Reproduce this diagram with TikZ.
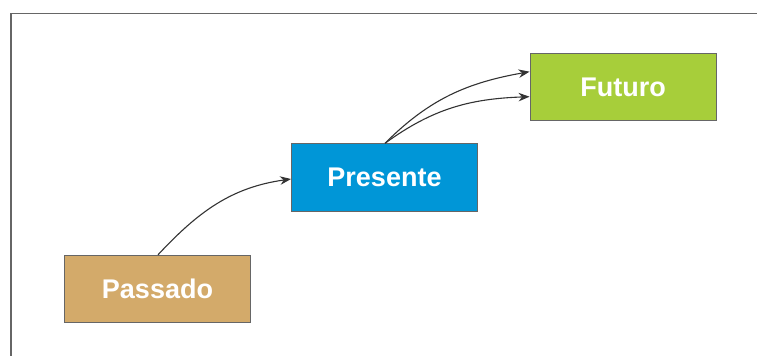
\documentclass[tikz,border=0pt]{standalone}
\usepackage{fontspec}
\setmainfont{Liberation Sans}
\usetikzlibrary{arrows.meta}
\definecolor{cpass}{HTML}{D3AA6A}
\definecolor{cpres}{HTML}{0096D7}
\definecolor{cfut}{HTML}{A7CE3A}
\begin{document}
\begin{tikzpicture}[x=1pt,y=-1pt,
  box/.style={draw=black!60,line width=0.9pt,minimum width=186pt,minimum height=67.5pt,inner sep=0pt,
    text=white,font=\fontsize{27}{31}\selectfont\bfseries},
  conn/.style={draw=black!80,line width=1.1pt,-{Stealth[length=11pt,width=8.5pt]}}]
\useasboundingbox (0,0) rectangle (757,356);
\fill[white] (0,0) rectangle (757,356);
\draw[black!60,line width=1.6pt] (757,13.5) -- (11,13.5) -- (11,356);
\node[box,fill=cpass] (pass) at (157.5,289) {Passado};
\node[box,fill=cpres] (pres) at (384.5,177.5) {Presente};
\node[box,fill=cfut] (fut) at (623,87) {Futuro};
\coordinate (a1) at ([xshift=0.5pt]pass.north);
\coordinate (b1) at ([yshift=-1.5pt]pres.west);
\draw[conn] (a1) to[out=47,in=188] (b1);
\coordinate (a2) at ([xshift=0.5pt]pres.north);
\coordinate (c1) at ([yshift=15.3pt]fut.west);
\coordinate (c2) at ([yshift=-9.7pt]fut.west);
\draw[conn] (a2) to[out=45,in=190] (c1);
\draw[conn] (a2) to[out=36,in=182] (c2);
\end{tikzpicture}
\end{document}
